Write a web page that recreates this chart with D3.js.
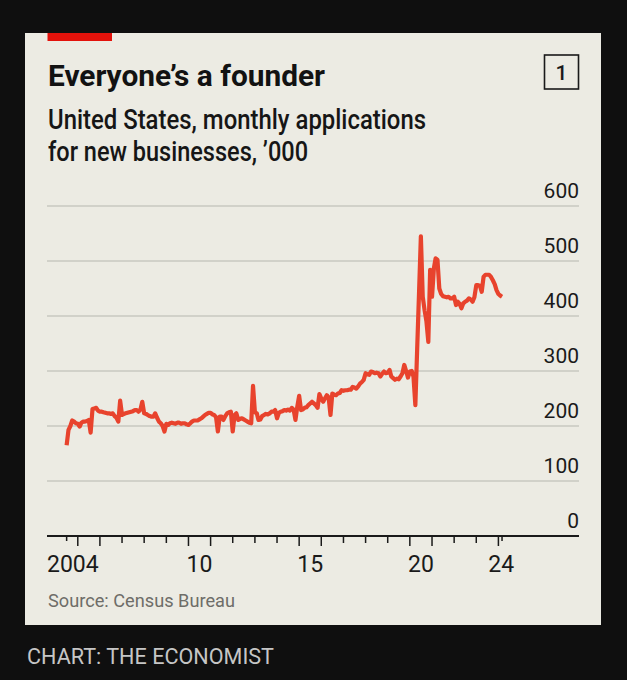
<!DOCTYPE html>
<html>
<head>
<meta charset="utf-8">
<script src="https://cdn.jsdelivr.net/npm/d3@7"></script>
<style>
  body { margin: 0; background: #0f0f0f; }
  svg { display: block; }
  text { font-family: Roboto, "Noto Sans", sans-serif; }
</style>
</head>
<body>
<svg id="chart" width="627" height="680"></svg>
<script>
// Monthly business applications, '000 (series starts July 2004)
const apps2004 = [165, 193, 200, 210, 208, 205];
const apps2005 = [204, 199, 206, 208, 208, 209, 211, 188, 231, 232, 233, 228];
const apps2006 = [226, 226, 225, 224, 223, 223, 222, 223, 218, 215, 208, 246];
const apps2007 = [220, 222, 223, 224, 225, 226, 227, 229, 229, 226, 230, 244];
const apps2008 = [223, 222, 220, 218, 217, 217, 223, 215, 208, 205, 200, 190];
const apps2009 = [204, 202, 205, 206, 205, 204, 206, 206, 204, 205, 205, 203];
const apps2010 = [202, 205, 208, 210, 210, 210, 212, 214, 217, 220, 222, 224];
const apps2011 = [224, 221, 220, 216, 190, 217, 217, 211, 218, 223, 225, 226];
const apps2012 = [190, 220, 223, 211, 213, 214, 212, 210, 208, 206, 205, 273];
const apps2013 = [225, 223, 211, 212, 218, 220, 222, 221, 223, 226, 226, 229];
const apps2014 = [214, 224, 226, 227, 229, 228, 230, 228, 233, 230, 211, 235];
const apps2015 = [255, 229, 230, 233, 234, 238, 241, 244, 241, 238, 233, 258];
const apps2016 = [250, 244, 250, 256, 252, 220, 259, 257, 256, 259, 260, 265];
const apps2017 = [264, 265, 265, 266, 266, 271, 270, 268, 272, 277, 280, 284];
const apps2018 = [296, 294, 293, 299, 298, 296, 297, 296, 290, 295, 299, 296];
const apps2019 = [297, 302, 290, 287, 284, 286, 285, 290, 296, 311, 300, 288];
const apps2020 = [299, 300, 290, 238, 340, 443, 545, 435, 410, 390, 353, 484];
const apps2021 = [435, 487, 505, 502, 450, 440, 436, 435, 434, 435, 432, 432];
const apps2022 = [435, 420, 426, 422, 414, 423, 426, 428, 432, 430, 426, 434];
const apps2023 = [456, 456, 455, 444, 471, 475, 475, 475, 471, 465, 458, 447];
const apps2024 = [440, 437, 435];

const yTicks = [0, 100, 200, 300, 400, 500, 600];
const xLabelYears = [2004, 2010, 2015, 2020, 2024];
const xLabels = ["2004", "10", "15", "20", "24"];
const longTickYears = [2005, 2006, 2010, 2011, 2015, 2016, 2020, 2021, 2024];

const yearly = [apps2004, apps2005, apps2006, apps2007, apps2008, apps2009, apps2010,
  apps2011, apps2012, apps2013, apps2014, apps2015, apps2016, apps2017, apps2018,
  apps2019, apps2020, apps2021, apps2022, apps2023, apps2024];

// flatten into dated points
const data = [];
yearly.forEach((vals, i) => {
  const year = 2004 + i;
  const firstMonth = year === 2004 ? 6 : 0;
  vals.forEach((v, j) => data.push({ date: new Date(year, firstMonth + j, 1), value: v }));
});

const svg = d3.select("#chart");

// card
svg.append("rect").attr("x", 25).attr("y", 33).attr("width", 576).attr("height", 592).attr("fill", "#ecebe3");
svg.append("rect").attr("x", 47.5).attr("y", 33).attr("width", 64.5).attr("height", 8).attr("fill", "#e3120b");

// titles
svg.append("text").attr("x", 48).attr("y", 86)
  .attr("font-size", 29.5).attr("font-weight", 700).attr("fill", "#121212")
  .attr("textLength", 277).attr("lengthAdjust", "spacingAndGlyphs")
  .text("Everyone’s a founder");

svg.append("text").attr("x", 48).attr("y", 129)
  .attr("font-size", 27).attr("font-weight", 500).attr("fill", "#161616")
  .attr("textLength", 378).attr("lengthAdjust", "spacingAndGlyphs")
  .text("United States, monthly applications");
svg.append("text").attr("x", 48).attr("y", 161)
  .attr("font-size", 27).attr("font-weight", 500).attr("fill", "#161616")
  .attr("textLength", 260).attr("lengthAdjust", "spacingAndGlyphs")
  .text("for new businesses, ’000");

// chart number box
svg.append("rect").attr("x", 544.5).attr("y", 55).attr("width", 34).attr("height", 34)
  .attr("fill", "none").attr("stroke", "#1a1a1a").attr("stroke-width", 1.6);
svg.append("text").attr("x", 561.5).attr("y", 79.5).attr("text-anchor", "middle")
  .attr("font-size", 21).attr("font-weight", 500).attr("fill", "#1a1a1a").text("1");

// scales
const x = d3.scaleTime()
  .domain([new Date(2004, 0, 1), new Date(2024, 0, 1)])
  .range([55.6, 498.4]);
const y = d3.scaleLinear().domain([0, 600]).range([536, 206]);
const left = 47, right = 579;

// gridlines + y labels
svg.append("g").selectAll("line")
  .data(yTicks.filter(d => d > 0))
  .enter().append("line")
  .attr("x1", left).attr("x2", right)
  .attr("y1", d => y(d)).attr("y2", d => y(d))
  .attr("stroke", "#c9c8c0").attr("stroke-width", 1.3);

svg.append("g").selectAll("text")
  .data(yTicks)
  .enter().append("text")
  .attr("x", right).attr("y", d => y(d) - 8)
  .attr("text-anchor", "end").attr("font-size", 21).attr("fill", "#1a1a1a")
  .text(d => d);

// line
const line = d3.line().x(d => x(d.date)).y(d => y(d.value));
svg.append("path").datum(data)
  .attr("d", line)
  .attr("fill", "none").attr("stroke", "#e8432d")
  .attr("stroke-width", 4.2).attr("stroke-linejoin", "round");

// x axis
svg.append("line").attr("x1", left).attr("x2", right)
  .attr("y1", y(0)).attr("y2", y(0))
  .attr("stroke", "#1a1a1a").attr("stroke-width", 2);

const years = d3.range(2005, 2025);
svg.append("g").selectAll("line")
  .data(years)
  .enter().append("line")
  .attr("x1", d => x(new Date(d, 0, 1))).attr("x2", d => x(new Date(d, 0, 1)))
  .attr("y1", y(0)).attr("y2", d => y(0) + (longTickYears.includes(d) ? 10 : 7))
  .attr("stroke", "#1a1a1a").attr("stroke-width", 1.5);

// short ticks at the first and last month
const firstDate = data[0].date, lastDate = data[data.length - 1].date;
svg.append("g").selectAll("line")
  .data([firstDate, lastDate])
  .enter().append("line")
  .attr("x1", d => x(d)).attr("x2", d => x(d))
  .attr("y1", y(0)).attr("y2", y(0) + 5)
  .attr("stroke", "#1a1a1a").attr("stroke-width", 1.5);

function labelX(yr) {
  if (yr === 2004) return left;
  const a = x(new Date(yr, 0, 1));
  const b = yr === 2024 ? x(lastDate) + 2 : x(new Date(yr + 1, 0, 1));
  return (a + b) / 2;
}
svg.append("g").selectAll("text")
  .data(xLabelYears)
  .enter().append("text")
  .attr("x", d => labelX(d)).attr("y", 572)
  .attr("text-anchor", d => d === 2004 ? "start" : "middle")
  .attr("font-size", 23).attr("fill", "#1a1a1a")
  .text((d, i) => xLabels[i]);

// footer
svg.append("text").attr("x", 48).attr("y", 607)
  .attr("font-size", 19).attr("fill", "#6e6d68")
  .attr("textLength", 187).attr("lengthAdjust", "spacingAndGlyphs")
  .text("Source: Census Bureau");
svg.append("text").attr("x", 27).attr("y", 664)
  .attr("font-size", 22).attr("fill", "#c6c6c6")
  .attr("textLength", 247).attr("lengthAdjust", "spacingAndGlyphs")
  .text("CHART: THE ECONOMIST");
</script>
</body>
</html>
